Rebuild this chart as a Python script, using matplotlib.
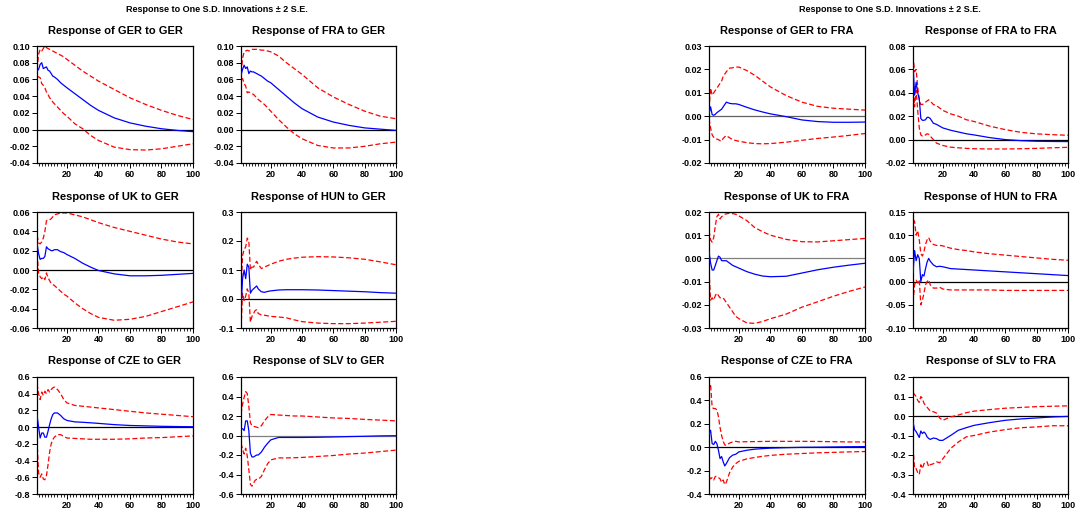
"""Impulse responses to GER and FRA shocks (EViews style, +/- 2 S.E. bands)."""

import matplotlib
matplotlib.use("Agg")
import matplotlib.pyplot as plt
from matplotlib.ticker import FixedLocator, FormatStrFormatter, MultipleLocator

plt.rcParams["font.family"] = ["Liberation Sans", "DejaVu Sans"]
plt.rcParams["font.weight"] = "bold"

# periods (denser where the responses wiggle)
periods = [1, 2, 3, 4, 5, 6, 7, 8, 9, 10, 11, 12, 14, 16, 18, 20, 25, 30, 35, 40, 50, 60, 70, 80, 90, 100]

# --- shock: GER ---
ger_ger_resp = [0.070, 0.072, 0.078, 0.080, 0.073, 0.074, 0.075, 0.071, 0.070, 0.067, 0.064, 0.063, 0.060,
                0.056, 0.053, 0.050, 0.043, 0.036, 0.029, 0.023, 0.014, 0.008, 0.004, 0.001, -0.001, -0.0025]
ger_ger_hi = [0.072, 0.090, 0.096, 0.094, 0.097, 0.100, 0.098, 0.097, 0.096, 0.095, 0.094, 0.093, 0.091,
              0.089, 0.087, 0.084, 0.077, 0.070, 0.064, 0.058, 0.048, 0.038, 0.030, 0.023, 0.017, 0.012]
ger_ger_lo = [0.064, 0.063, 0.062, 0.055, 0.053, 0.050, 0.045, 0.042, 0.038, 0.036, 0.033, 0.031, 0.027,
              0.023, 0.019, 0.016, 0.007, 0.001, -0.007, -0.013, -0.021, -0.024, -0.0245, -0.023, -0.020, -0.017]

fra_ger_resp = [0.065, 0.072, 0.077, 0.073, 0.075, 0.067, 0.070, 0.069, 0.069, 0.068, 0.067, 0.066, 0.064,
                0.061, 0.058, 0.056, 0.048, 0.040, 0.032, 0.025, 0.015, 0.009, 0.005, 0.002, 0.0005, -0.001]
fra_ger_hi = [0.068, 0.085, 0.093, 0.094, 0.095, 0.094, 0.095, 0.096, 0.096, 0.096, 0.096, 0.096, 0.095,
              0.095, 0.094, 0.093, 0.088, 0.080, 0.073, 0.066, 0.050, 0.039, 0.030, 0.022, 0.016, 0.013]
fra_ger_lo = [0.060, 0.061, 0.055, 0.052, 0.044, 0.045, 0.044, 0.043, 0.042, 0.040, 0.038, 0.036, 0.033,
              0.030, 0.026, 0.022, 0.012, 0.003, -0.005, -0.011, -0.019, -0.022, -0.022, -0.020, -0.017, -0.015]

uk_ger_resp = [0.028, 0.017, 0.011, 0.012, 0.012, 0.014, 0.024, 0.022, 0.021, 0.020, 0.020, 0.021, 0.021,
               0.019, 0.018, 0.016, 0.012, 0.007, 0.003, -0.0005, -0.004, -0.006, -0.006, -0.0055, -0.0045, -0.0035]
uk_ger_hi = [0.036, 0.028, 0.027, 0.029, 0.033, 0.040, 0.051, 0.051, 0.052, 0.053, 0.055, 0.057, 0.058,
             0.059, 0.059, 0.059, 0.057, 0.055, 0.052, 0.049, 0.044, 0.040, 0.036, 0.032, 0.029, 0.027]
uk_ger_lo = [0.017, -0.003, -0.007, -0.009, -0.007, -0.010, -0.003, -0.008, -0.011, -0.014, -0.015, -0.016, -0.019,
             -0.022, -0.025, -0.027, -0.034, -0.040, -0.045, -0.049, -0.052, -0.051, -0.048, -0.043, -0.038, -0.033]

hun_ger_resp = [-0.03, 0.07, 0.10, 0.07, 0.12, 0.11, 0.02, 0.03, 0.035, 0.04, 0.045, 0.035, 0.025,
                0.023, 0.026, 0.028, 0.031, 0.032, 0.032, 0.032, 0.031, 0.029, 0.027, 0.025, 0.022, 0.020]
hun_ger_hi = [0.02, 0.15, 0.17, 0.18, 0.21, 0.20, 0.10, 0.11, 0.11, 0.12, 0.13, 0.12, 0.105,
              0.11, 0.115, 0.12, 0.13, 0.137, 0.141, 0.144, 0.146, 0.145, 0.142, 0.137, 0.128, 0.118]
hun_ger_lo = [-0.10, 0.02, -0.005, 0.01, 0.035, 0.02, -0.08, -0.06, -0.05, -0.04, -0.037, -0.05, -0.055,
              -0.056, -0.058, -0.060, -0.062, -0.065, -0.072, -0.078, -0.083, -0.085, -0.085, -0.083, -0.080, -0.077]

cze_ger_resp = [0.15, 0.0, -0.13, -0.07, -0.07, -0.12, -0.12, -0.05, 0.03, 0.10, 0.15, 0.17, 0.17,
                0.14, 0.10, 0.08, 0.063, 0.058, 0.052, 0.045, 0.030, 0.020, 0.015, 0.010, 0.007, 0.005]
cze_ger_hi = [0.52, 0.40, 0.33, 0.42, 0.38, 0.43, 0.40, 0.45, 0.42, 0.45, 0.47, 0.48, 0.45,
              0.40, 0.33, 0.29, 0.26, 0.25, 0.24, 0.23, 0.21, 0.19, 0.17, 0.155, 0.14, 0.125]
cze_ger_lo = [-0.15, -0.55, -0.60, -0.56, -0.62, -0.63, -0.58, -0.45, -0.30, -0.20, -0.15, -0.12, -0.09,
              -0.09, -0.11, -0.13, -0.135, -0.14, -0.145, -0.145, -0.145, -0.14, -0.13, -0.125, -0.115, -0.105]

slv_ger_resp = [0.07, 0.07, 0.05, 0.15, 0.15, 0.05, -0.18, -0.22, -0.22, -0.21, -0.20, -0.20, -0.17,
                -0.12, -0.08, -0.045, -0.02, -0.02, -0.02, -0.02, -0.018, -0.015, -0.011, -0.008, -0.004, -0.002]
slv_ger_hi = [0.22, 0.32, 0.39, 0.45, 0.43, 0.30, 0.13, 0.10, 0.095, 0.09, 0.085, 0.08, 0.10,
              0.15, 0.19, 0.215, 0.21, 0.205, 0.20, 0.20, 0.19, 0.18, 0.175, 0.165, 0.158, 0.15]
slv_ger_lo = [-0.08, -0.14, -0.19, -0.13, -0.21, -0.35, -0.50, -0.52, -0.49, -0.46, -0.45, -0.45, -0.42,
              -0.35, -0.29, -0.25, -0.23, -0.23, -0.228, -0.225, -0.215, -0.205, -0.19, -0.18, -0.165, -0.15]

# --- shock: FRA ---
ger_fra_resp = [0.001, 0.004, 0.0007, 0.0004, 0.0008, 0.0015, 0.002, 0.0025, 0.003, 0.004, 0.005, 0.006, 0.0055,
                0.0053, 0.0053, 0.005, 0.0038, 0.0027, 0.0018, 0.001, -0.0002, -0.0016, -0.0023, -0.0026, -0.0026, -0.0025]
ger_fra_hi = [0.003, 0.012, 0.009, 0.010, 0.011, 0.012, 0.013, 0.014, 0.015, 0.017, 0.018, 0.019, 0.0205,
              0.0207, 0.021, 0.021, 0.0195, 0.0175, 0.015, 0.0125, 0.0088, 0.006, 0.0042, 0.0034, 0.003, 0.0026]
ger_fra_lo = [-0.001, -0.005, -0.008, -0.009, -0.0095, -0.0098, -0.010, -0.0105, -0.0107, -0.0095, -0.0088, -0.0083,
              -0.0092, -0.0100, -0.0104, -0.0107, -0.0113, -0.0117, -0.0118, -0.0117, -0.0111, -0.0103, -0.0095,
              -0.0089, -0.0082, -0.0074]

fra_fra_resp = [0.065, 0.038, 0.049, 0.040, 0.035, 0.018, 0.0165, 0.0165, 0.017, 0.019, 0.019, 0.018, 0.014,
                0.013, 0.0115, 0.010, 0.008, 0.0065, 0.005, 0.004, 0.0017, 0.0, -0.0009, -0.0014, -0.0016, -0.0017]
fra_fra_hi = [0.072, 0.058, 0.060, 0.045, 0.034, 0.030, 0.030, 0.031, 0.032, 0.033, 0.034, 0.033, 0.030,
              0.029, 0.027, 0.025, 0.022, 0.020, 0.017, 0.0155, 0.0115, 0.0085, 0.0062, 0.0049, 0.0042, 0.0037]
fra_fra_lo = [0.055, 0.028, 0.042, 0.025, 0.010, 0.004, 0.003, 0.003, 0.004, 0.005, 0.0045, 0.003, 0.0,
              -0.003, -0.004, -0.005, -0.0065, -0.007, -0.0075, -0.0078, -0.008, -0.008, -0.0078, -0.0075, -0.007, -0.0066]

uk_fra_resp = [0.003, -0.002, -0.005, -0.005, -0.003, -0.001, 0.001, 0.0005, -0.001, -0.001, -0.001, -0.001, -0.002,
               -0.003, -0.0036, -0.0042, -0.0057, -0.0068, -0.0076, -0.0079, -0.0077, -0.0063, -0.0049, -0.0038,
               -0.0029, -0.0021]
uk_fra_hi = [0.012, 0.008, 0.007, 0.009, 0.014, 0.018, 0.019, 0.017, 0.018, 0.0185, 0.019, 0.0192, 0.0195,
             0.0193, 0.019, 0.0183, 0.0163, 0.0133, 0.0115, 0.010, 0.0082, 0.0072, 0.0071, 0.0076, 0.0081, 0.0086]
uk_fra_lo = [-0.005, -0.018, -0.017, -0.018, -0.016, -0.015, -0.016, -0.017, -0.017, -0.017, -0.018, -0.019, -0.021,
             -0.023, -0.025, -0.026, -0.0278, -0.028, -0.0272, -0.026, -0.024, -0.021, -0.0187, -0.0163, -0.0142, -0.0123]

hun_fra_resp = [0.018, 0.067, 0.045, 0.058, 0.050, 0.0, 0.015, 0.012, 0.028, 0.042, 0.050, 0.044, 0.036,
                0.032, 0.033, 0.032, 0.028, 0.027, 0.026, 0.025, 0.023, 0.021, 0.019, 0.017, 0.015, 0.013]
hun_fra_hi = [0.134, 0.13, 0.10, 0.11, 0.09, 0.06, 0.055, 0.065, 0.08, 0.09, 0.095, 0.087, 0.08,
              0.078, 0.078, 0.077, 0.072, 0.069, 0.067, 0.064, 0.060, 0.057, 0.054, 0.051, 0.048, 0.046]
hun_fra_lo = [-0.045, -0.007, 0.003, -0.003, 0.004, -0.05, -0.04, -0.025, -0.007, 0.0, 0.004, -0.007, -0.014,
              -0.014, -0.012, -0.016, -0.018, -0.018, -0.018, -0.018, -0.018, -0.019, -0.019, -0.019, -0.019, -0.019]

cze_fra_resp = [0.11, 0.145, 0.03, 0.023, 0.05, 0.03, -0.026, -0.097, -0.08, -0.125, -0.16, -0.14, -0.09,
                -0.068, -0.06, -0.04, -0.026, -0.017, -0.012, -0.008, -0.004, -0.001, 0.0, 0.002, 0.004, 0.005]
cze_fra_hi = [0.49, 0.54, 0.34, 0.33, 0.33, 0.32, 0.26, 0.17, 0.10, 0.05, 0.02, 0.015, 0.035,
              0.045, 0.05, 0.045, 0.047, 0.048, 0.049, 0.05, 0.05, 0.05, 0.049, 0.047, 0.045, 0.045]
cze_fra_lo = [-0.25, -0.27, -0.26, -0.28, -0.25, -0.25, -0.26, -0.27, -0.30, -0.28, -0.32, -0.30, -0.22,
              -0.17, -0.14, -0.12, -0.10, -0.088, -0.078, -0.07, -0.06, -0.054, -0.048, -0.044, -0.04, -0.037]

slv_fra_resp = [-0.03, -0.07, -0.08, -0.095, -0.11, -0.077, -0.09, -0.082, -0.09, -0.107, -0.115, -0.12, -0.113,
                -0.116, -0.125, -0.125, -0.10, -0.073, -0.06, -0.048, -0.034, -0.022, -0.015, -0.01, -0.005, -0.002]
slv_fra_hi = [0.12, 0.11, 0.10, 0.08, 0.07, 0.10, 0.09, 0.065, 0.055, 0.045, 0.035, 0.025, 0.022,
              0.015, -0.01, -0.022, -0.005, 0.005, 0.017, 0.025, 0.033, 0.04, 0.044, 0.048, 0.05, 0.052]
slv_fra_lo = [-0.16, -0.27, -0.27, -0.29, -0.30, -0.25, -0.27, -0.245, -0.235, -0.235, -0.26, -0.25, -0.245,
              -0.235, -0.24, -0.22, -0.167, -0.133, -0.107, -0.10, -0.082, -0.07, -0.06, -0.056, -0.05, -0.05]

SUPTITLE = "Response to One S.D. Innovations \u00b1 2 S.E."

# layout in pixels of the 1075x512 canvas: column left edges / widths, row top / bottom
W, H = 1075, 512
COLS = [(37, 156), (241, 155), (709, 156), (913, 155)]
ROWS = [(46, 163), (212, 328), (377, 494)]

# (title, resp, hi, lo, (ymin, ymax, step, fmt), zero-line colour, column, row)
panels = [
    ("Response of GER to GER", ger_ger_resp, ger_ger_hi, ger_ger_lo, (-0.04, 0.10, 0.02, "%.2f"), "black", 0, 0),
    ("Response of FRA to GER", fra_ger_resp, fra_ger_hi, fra_ger_lo, (-0.04, 0.10, 0.02, "%.2f"), "black", 1, 0),
    ("Response of UK to GER", uk_ger_resp, uk_ger_hi, uk_ger_lo, (-0.06, 0.06, 0.02, "%.2f"), "black", 0, 1),
    ("Response of HUN to GER", hun_ger_resp, hun_ger_hi, hun_ger_lo, (-0.1, 0.3, 0.1, "%.1f"), "black", 1, 1),
    ("Response of CZE to GER", cze_ger_resp, cze_ger_hi, cze_ger_lo, (-0.8, 0.6, 0.2, "%.1f"), "black", 0, 2),
    ("Response of SLV to GER", slv_ger_resp, slv_ger_hi, slv_ger_lo, (-0.6, 0.6, 0.2, "%.1f"), "#808080", 1, 2),
    ("Response of GER to FRA", ger_fra_resp, ger_fra_hi, ger_fra_lo, (-0.02, 0.03, 0.01, "%.2f"), "#606060", 2, 0),
    ("Response of FRA to FRA", fra_fra_resp, fra_fra_hi, fra_fra_lo, (-0.02, 0.08, 0.02, "%.2f"), "black", 3, 0),
    ("Response of UK to FRA", uk_fra_resp, uk_fra_hi, uk_fra_lo, (-0.03, 0.02, 0.01, "%.2f"), "#808080", 2, 1),
    ("Response of HUN to FRA", hun_fra_resp, hun_fra_hi, hun_fra_lo, (-0.10, 0.15, 0.05, "%.2f"), "black", 3, 1),
    ("Response of CZE to FRA", cze_fra_resp, cze_fra_hi, cze_fra_lo, (-0.4, 0.6, 0.2, "%.1f"), "black", 2, 2),
    ("Response of SLV to FRA", slv_fra_resp, slv_fra_hi, slv_fra_lo, (-0.4, 0.2, 0.1, "%.1f"), "black", 3, 2),
]


def draw_panel(ax, title, resp, hi, lo, yspec, zero_color):
    ymin, ymax, step, fmt = yspec
    ax.axhline(0, color=zero_color, lw=0.9, zorder=1)
    ax.plot(periods, resp, color="#0000ff", lw=0.9, zorder=3)
    ax.plot(periods, hi, color="#ff0000", lw=0.9, ls=(0, (4, 2)), zorder=2)
    ax.plot(periods, lo, color="#ff0000", lw=0.9, ls=(0, (4, 2)), zorder=2)

    ax.set_xlim(1, 100)
    ax.set_ylim(ymin, ymax)
    n = int(round((ymax - ymin) / step))
    ax.yaxis.set_major_locator(FixedLocator([ymin + i * step for i in range(n + 1)]))
    ax.yaxis.set_major_formatter(FormatStrFormatter(fmt))
    ax.xaxis.set_major_locator(FixedLocator([20, 40, 60, 80, 100]))
    ax.xaxis.set_minor_locator(MultipleLocator(2))

    ax.tick_params(axis="both", which="major", direction="out", length=3.5, width=0.7,
                   labelsize=6.5, pad=1.5)
    ax.tick_params(axis="x", which="minor", direction="out", length=2, width=0.6)
    for lab in ax.get_xticklabels() + ax.get_yticklabels():
        lab.set_fontweight("bold")
    for sp in ax.spines.values():
        sp.set_linewidth(0.9)
    ax.set_title(title, fontsize=8, fontweight="bold", pad=9)


fig = plt.figure(figsize=(W / 100, H / 100), dpi=100)

for title, resp, hi, lo, yspec, zc, c, r in panels:
    x0, w = COLS[c]
    top, bot = ROWS[r]
    ax = fig.add_axes([x0 / W, 1 - bot / H, w / W, (bot - top) / H])
    draw_panel(ax, title, resp, hi, lo, yspec, zc)

fig.text(217 / W, 1 - 9 / H, SUPTITLE, ha="center", va="center", fontsize=6.5, fontweight="bold")
fig.text(890 / W, 1 - 9 / H, SUPTITLE, ha="center", va="center", fontsize=6.5, fontweight="bold")

fig.savefig("out.png", dpi=100)
